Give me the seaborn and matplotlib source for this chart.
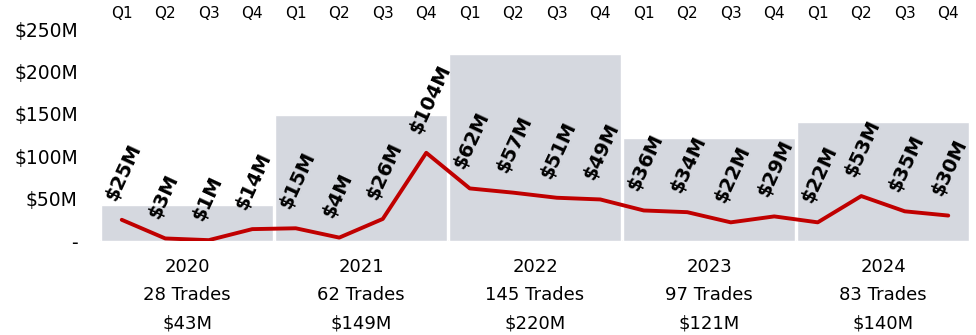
import matplotlib
matplotlib.use('Agg')
import matplotlib.pyplot as plt
import seaborn as sns
import pandas as pd
import numpy as np

years = ['2020', '2021', '2022', '2023', '2024']
trades = [28, 62, 145, 97, 83]
year_totals = [43, 149, 220, 121, 140]
quarters = ['Q1', 'Q2', 'Q3', 'Q4']
quarterly = [25, 3, 1, 14, 15, 4, 26, 104, 62, 57, 51, 49, 36, 34, 22, 29, 22, 53, 35, 30]
ytick_vals = [0, 50, 100, 150, 200, 250]
ytick_labels = ['-', '$50M', '$100M', '$150M', '$200M', '$250M']

sns.set_theme(style='white')
plt.rcParams['font.family'] = ['DejaVu Sans']

fig = plt.figure(figsize=(9.76, 3.35), dpi=100)
ax = fig.add_axes([100 / 976, 94 / 335, 870 / 976, 212 / 335])

qx = np.arange(len(quarterly))
year_x = [4 * i + 1.5 for i in range(len(years))]
df_y = pd.DataFrame({'x': year_x, 'total': year_totals})
df_q = pd.DataFrame({'x': qx, 'value': quarterly})

sns.barplot(data=df_y, x='x', y='total', native_scale=True, width=0.985,
            color='#d5d8df', saturation=1, errorbar=None, ax=ax, zorder=1)
sns.lineplot(data=df_q, x='x', y='value', color='#c00000', linewidth=2.8,
             ax=ax, zorder=3)

for xi, v in zip(qx, quarterly):
    ax.annotate(r'\$' + f'{v}M', (xi, v), xytext=(-8, 15), textcoords='offset points',
                rotation=65, rotation_mode='anchor', ha='left', va='center',
                fontsize=14, fontweight='bold', color='black', zorder=4)

ax.axhline(0, color='#e3e3e3', lw=1, zorder=0)
ax.set_xlim(-0.5, len(quarterly) - 0.5)
ax.set_ylim(0, 250)
ax.set_yticks(ytick_vals)
ax.set_yticklabels([l.replace('$', r'\$') for l in ytick_labels])
ax.tick_params(axis='y', length=0, pad=16, labelsize=13.5, colors='black')

ax.set_xticks(year_x)
ax.set_xticklabels([f'{y}\n{t} Trades\n' + r'\$' + f'{v}M'
                    for y, t, v in zip(years, trades, year_totals)],
                   fontsize=13, linespacing=1.75)
ax.tick_params(axis='x', length=0, pad=12, colors='black')
ax.set_xlabel('')
ax.set_ylabel('')

sec = ax.secondary_xaxis('top')
sec.set_xticks(qx)
sec.set_xticklabels(quarters * len(years))
sec.tick_params(axis='x', length=0, pad=6, labelsize=11, colors='black')
for s in sec.spines.values():
    s.set_visible(False)

for s in ax.spines.values():
    s.set_visible(False)

fig.savefig('out.png', dpi=100)
